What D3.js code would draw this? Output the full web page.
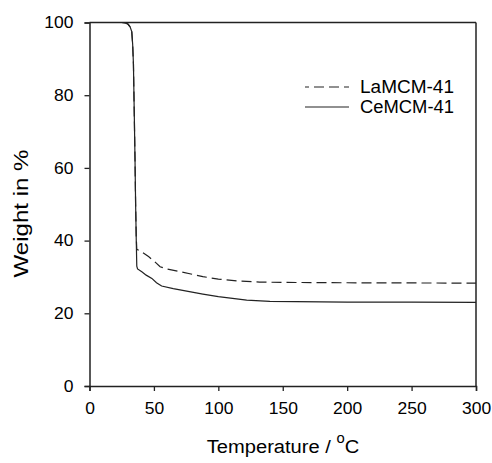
<!DOCTYPE html>
<html><head><meta charset="utf-8">
<script src="https://cdn.jsdelivr.net/npm/d3@7"></script>
<style>body{margin:0;background:#fff}svg{display:block}text{font-family:"Liberation Sans",Arial,sans-serif;fill:#000}</style>
</head><body><div id="c"></div>
<script>
const xTicks = [0, 50, 100, 150, 200, 250, 300];
const yTicks = [0, 20, 40, 60, 80, 100];
const seriesNames = ["LaMCM-41", "CeMCM-41"];
const laTemp = [25, 28, 30, 31.5, 32.8, 33.5, 34.1, 34.7, 35.3, 35.8, 36.3, 36.7, 40, 45.8, 50, 54.8, 60, 70, 88, 100, 115, 132, 150, 200, 250, 300];
const laWeight = [100, 99.9, 99.5, 98.8, 97.5, 94, 88.6, 76, 63, 50, 41, 37.6, 37, 35.6, 34.4, 32.8, 32.2, 31.5, 30.1, 29.4, 28.9, 28.6, 28.5, 28.4, 28.35, 28.3];
const ceTemp = [25, 28, 30, 31.5, 32.8, 33.5, 34.1, 34.7, 35.3, 35.8, 36.3, 36.7, 37.3, 40.6, 44, 48.4, 52, 56, 65, 88, 100, 122, 140, 200, 250, 300];
const ceWeight = [100, 99.9, 99.5, 98.8, 97.5, 94, 88.6, 76, 63, 50, 40, 33, 32.2, 31.4, 30.5, 29.6, 28.4, 27.5, 26.8, 25.3, 24.6, 23.6, 23.3, 23.1, 23.05, 23.0];

const W = 492, H = 463;
const svg = d3.select("#c").append("svg").attr("width", W).attr("height", H);
const x = d3.scaleLinear().domain([0, 300]).range([89.5, 476]);
const y = d3.scaleLinear().domain([0, 100]).range([386, 22.5]);
const ink = "#222";
const FONT = '"Liberation Sans", Arial, sans-serif';

function stretch(sel, k) {
  sel.each(function () {
    const L = this.getComputedTextLength();
    d3.select(this).attr("textLength", L * k).attr("lengthAdjust", "spacingAndGlyphs");
  });
}

// frame top & right
svg.append("line").attr("x1", x(0)).attr("x2", x(300)).attr("y1", y(100)).attr("y2", y(100)).attr("stroke", ink).attr("stroke-width", 1.5);
svg.append("line").attr("x1", x(300)).attr("x2", x(300)).attr("y1", y(100)).attr("y2", y(0)).attr("stroke", ink).attr("stroke-width", 1.5);

const xa = svg.append("g").attr("transform", `translate(0,${y(0)})`)
  .call(d3.axisBottom(x).tickValues(xTicks).tickSize(5).tickPadding(11).tickFormat(d3.format("d")));
const ya = svg.append("g").attr("transform", `translate(${x(0)},0)`)
  .call(d3.axisLeft(y).tickValues(yTicks).tickSize(5).tickPadding(11).tickFormat(d3.format("d")));
[xa, ya].forEach(a => {
  a.select(".domain").attr("stroke", ink).attr("stroke-width", 1.5);
  a.selectAll(".tick line").attr("stroke", ink).attr("stroke-width", 1.3);
  a.selectAll("text").style("font-family", FONT).style("font-size", "16.5px").attr("fill", "#000");
  stretch(a.selectAll("text"), 1.06);
});

const line = d3.line().x(d => x(d[0])).y(d => y(d[1]));
const la = laTemp.map((t, i) => [t, laWeight[i]]);
const ce = ceTemp.map((t, i) => [t, ceWeight[i]]);
svg.append("path").attr("d", line(la)).attr("fill", "none").attr("stroke", ink).attr("stroke-width", 1.2).attr("stroke-dasharray", "10,5");
svg.append("path").attr("d", line(ce)).attr("fill", "none").attr("stroke", ink).attr("stroke-width", 1.2);

// legend
const lg = svg.append("g");
lg.append("line").attr("x1", 305).attr("x2", 349).attr("y1", 87).attr("y2", 87).attr("stroke", ink).attr("stroke-width", 1.2).attr("stroke-dasharray", "10,5").attr("stroke-dashoffset", 6);
lg.append("text").attr("x", 360).attr("y", 93).style("font-size", "17.5px").attr("textLength", 94).attr("lengthAdjust", "spacingAndGlyphs").text(seriesNames[0]);
lg.append("line").attr("x1", 305).attr("x2", 349).attr("y1", 107).attr("y2", 107).attr("stroke", ink).attr("stroke-width", 1.2);
lg.append("text").attr("x", 360).attr("y", 113).style("font-size", "17.5px").attr("textLength", 94).attr("lengthAdjust", "spacingAndGlyphs").text(seriesNames[1]);

// axis titles
const xt = svg.append("text").attr("transform", "translate(283,453) scale(1.06,1)").attr("text-anchor", "middle").style("font-size", "19px");
xt.append("tspan").text("Temperature / ");
xt.append("tspan").attr("dy", -10).style("font-size", "14px").text("o");
xt.append("tspan").attr("dy", 10).text("C");
svg.append("text").attr("transform", "translate(28,213.5) rotate(-90)").attr("text-anchor", "middle").style("font-size", "20px").attr("textLength", 128).attr("lengthAdjust", "spacingAndGlyphs").text("Weight in %");
</script></body></html>
